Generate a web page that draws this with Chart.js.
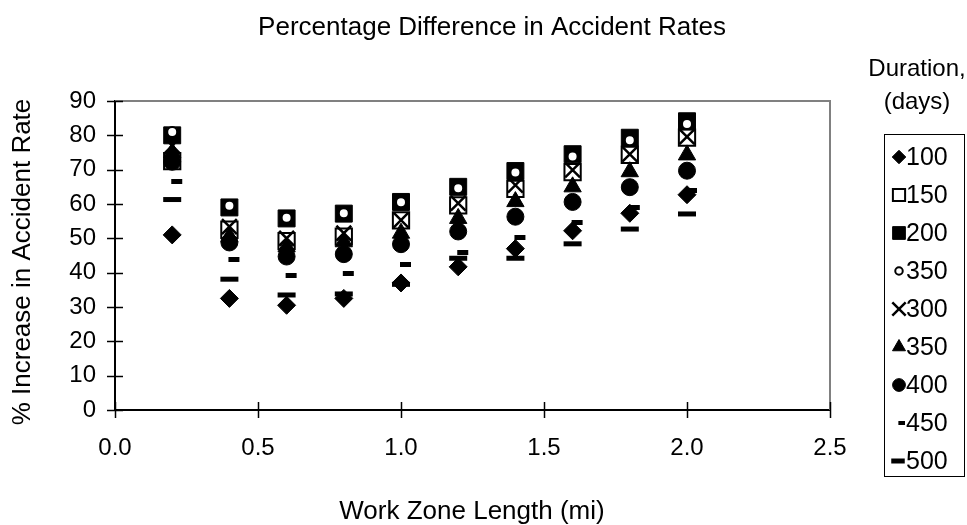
<!DOCTYPE html>
<html>
<head>
<meta charset="utf-8">
<script src="https://cdn.jsdelivr.net/npm/chart.js@4"></script>
<style>
html,body{margin:0;padding:0;background:#fff;}
#wrap{width:967px;height:525px;position:relative;}
</style>
</head>
<body>
<div id="wrap"><canvas id="c" width="967" height="525"></canvas></div>
<script>
// ---- data ----
const workZoneLength = [0.2, 0.4, 0.6, 0.8, 1.0, 1.2, 1.4, 1.6, 1.8, 2.0];
const durationLabels = ['100', '150', '200', '350', '300', '350', '400', '450', '500'];
const d100 = [51.0, 32.5, 30.5, 32.5, 37.0, 41.7, 47.0, 52.2, 57.3, 62.7];
const d150 = [72.5, 52.5, 49.2, 50.5, 55.2, 59.6, 64.4, 69.3, 74.3, 79.3];
const d200 = [80.0, 59.0, 55.8, 57.2, 60.6, 65.0, 69.6, 74.5, 79.3, 84.1];
const d350o = [81.0, 59.5, 56.0, 57.3, 60.5, 64.6, 69.2, 73.8, 78.6, 83.3];
const d300 = [77.0, 53.4, 50.0, 51.5, 55.3, 60.2, 65.5, 69.9, 74.5, 79.6];
const d350t = [75.0, 50.5, 47.5, 49.0, 51.5, 55.8, 60.7, 65.0, 69.4, 74.3];
const d400 = [72.3, 48.8, 44.7, 45.4, 48.3, 52.0, 56.3, 60.6, 64.9, 69.7];
const d450 = [66.5, 43.7, 39.1, 39.7, 42.4, 46.0, 50.2, 54.5, 58.9, 63.8];
const d500 = [61.3, 38.1, 33.5, 33.8, 36.6, 44.2, 44.2, 48.4, 52.7, 57.1];
const xTickStep = 0.5, xMax = 2.5, yTickStep = 10, yMax = 90;

const seriesValues = [d100, d150, d200, d350o, d300, d350t, d400, d450, d500];

// ---- styles ----
const FONT = "'Liberation Sans', Arial, Helvetica, sans-serif";
Chart.defaults.font.family = FONT;
Chart.defaults.color = '#000';

function dashCanvas(w, h, dw, offset) {
  const c = document.createElement('canvas');
  c.width = w; c.height = h;
  const g = c.getContext('2d');
  g.fillStyle = '#000';
  g.fillRect(offset, 0, dw, h);
  return c;
}
const smallDash = dashCanvas(24, 5, 11, 11);

const styles = [
  {pointStyle: 'rectRot', radius: 9, bg: '#000', bw: 1},
  {pointStyle: 'rect', radius: 11.5, bg: '#fff', bw: 2},
  {pointStyle: 'rect', radius: 12, bg: '#000', bw: 1},
  {pointStyle: 'circle', radius: 5, bg: '#fff', bw: 2},
  {pointStyle: 'crossRot', radius: 10.5, bg: '#000', bw: 2.5},
  {pointStyle: 'triangle', radius: 10, bg: '#000', bw: 1},
  {pointStyle: 'circle', radius: 8.5, bg: '#000', bw: 1},
  {pointStyle: smallDash, radius: 6, bg: '#000', bw: 0},
  {pointStyle: 'line', radius: 9, bg: '#000', bw: 5}
];

const datasets = seriesValues.map((vals, i) => ({
  label: durationLabels[i],
  data: vals.map((v, k) => ({x: workZoneLength[k], y: v})),
  pointStyle: styles[i].pointStyle,
  pointRadius: styles[i].radius,
  pointHoverRadius: styles[i].radius,
  pointBackgroundColor: styles[i].bg,
  pointBorderColor: '#000',
  pointBorderWidth: styles[i].bw,
  showLine: false,
  order: seriesValues.length - i
}));

const PLOT = {left: 115, right: 830, top: 101, bottom: 410};

const decorPlugin = {
  id: 'decor',
  beforeDatasetsDraw(chart) {
    const ctx = chart.ctx, a = chart.chartArea;
    ctx.save();
    ctx.strokeStyle = '#808080';
    ctx.lineWidth = 2;
    ctx.beginPath();
    ctx.moveTo(a.left, a.top);
    ctx.lineTo(a.right, a.top);
    ctx.lineTo(a.right, a.bottom);
    ctx.stroke();
    // crossing tick marks
    ctx.strokeStyle = '#000';
    ctx.lineWidth = 1.5;
    const xs = chart.scales.x, ys = chart.scales.y;
    xs.ticks.forEach((t, i) => {
      const px = Math.round(xs.getPixelForTick(i)) + 0.5;
      ctx.beginPath(); ctx.moveTo(px, a.bottom - 8); ctx.lineTo(px, a.bottom + 8); ctx.stroke();
    });
    ys.ticks.forEach((t, i) => {
      const py = Math.round(ys.getPixelForTick(i)) + 0.5;
      ctx.beginPath(); ctx.moveTo(a.left - 8, py); ctx.lineTo(a.left + 8, py); ctx.stroke();
    });
    ctx.restore();
  },
  afterDraw(chart) {
    const ctx = chart.ctx;
    ctx.save();
    ctx.fillStyle = '#000';
    ctx.textBaseline = 'middle';
    ctx.textAlign = 'center';
    ctx.font = '26px ' + FONT;
    ctx.fillText('Percentage Difference in Accident Rates', 492, 28);
    ctx.fillText('Work Zone Length (mi)', 472, 512);
    ctx.save();
    ctx.translate(23, 262);
    ctx.rotate(-Math.PI / 2);
    ctx.fillText('% Increase in Accident Rate', 0, 0);
    ctx.restore();
    ctx.font = '24px ' + FONT;
    ctx.fillText('Duration,', 917, 69);
    ctx.fillText('(days)', 917, 102);

    // legend box
    ctx.strokeStyle = '#000';
    ctx.lineWidth = 1;
    ctx.strokeRect(884.5, 134.5, 80, 342);
    ctx.textAlign = 'left';
    ctx.font = '25px ' + FONT;
    chart.data.datasets.forEach((ds, i) => {
      const y = 157 + i * 38;
      const x = 899;
      const s = ds.pointStyle === 'crossRot' ? 0.9 : 0.75;
      ctx.fillStyle = ds.pointBackgroundColor;
      ctx.strokeStyle = ds.pointBorderColor;
      ctx.lineWidth = ds.pointBorderWidth;
      if (ds.pointStyle instanceof HTMLCanvasElement) {
        const img = ds.pointStyle;
        const w = img.width * 0.6, h = img.height * 0.9;
        ctx.drawImage(img, x - w / 2, y - h / 2, w, h);
      } else {
        Chart.helpers.drawPoint(ctx, {
          pointStyle: ds.pointStyle,
          radius: ds.pointRadius * s,
          rotation: 0,
          borderWidth: ds.pointStyle === 'line' ? 4 : (ds.pointStyle === 'crossRot' ? 1.8 : ds.pointBorderWidth)
        }, ds.pointStyle === 'line' ? x - 1 : x, y);
      }
      ctx.fillStyle = '#000';
      ctx.fillText(ds.label, 906, y + 1);
    });
    ctx.restore();
  }
};

new Chart(document.getElementById('c'), {
  type: 'scatter',
  data: {datasets},
  options: {
    responsive: false,
    devicePixelRatio: 1,
    animation: false,
    events: [],
    layout: {padding: {left: 0, top: PLOT.top, right: 967 - PLOT.right, bottom: 0}},
    plugins: {legend: {display: false}, title: {display: false}, tooltip: {enabled: false}},
    scales: {
      x: {
        type: 'linear', min: 0, max: xMax,
        ticks: {stepSize: xTickStep, padding: 24, color: '#000', font: {size: 24},
          callback: v => Number(v).toFixed(1)},
        grid: {display: false, drawTicks: false},
        border: {display: true, color: '#000', width: 2},
        afterFit: sc => { sc.height = 525 - PLOT.bottom; }
      },
      y: {
        type: 'linear', min: 0, max: yMax,
        ticks: {stepSize: yTickStep, padding: 19, color: '#000', font: {size: 24}},
        grid: {display: false, drawTicks: false},
        border: {display: true, color: '#000', width: 2},
        afterFit: sc => { sc.width = PLOT.left; }
      }
    }
  },
  plugins: [decorPlugin]
});
</script>
</body>
</html>
